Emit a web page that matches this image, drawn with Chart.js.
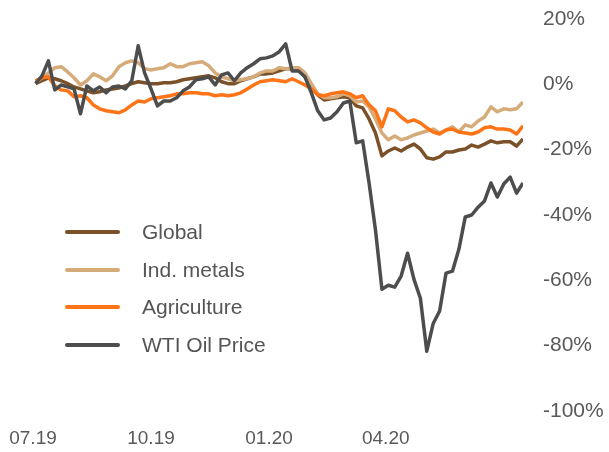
<!DOCTYPE html>
<html lang="en">
<head>
<meta charset="utf-8">
<title>Commodities</title>
<script src="https://cdn.jsdelivr.net/npm/chart.js@4.4.1/dist/chart.umd.min.js"></script>
<style>
    html, body { margin: 0; padding: 0; background: #fff; }
    #quadro { position: relative; width: 609px; height: 452px; }
    #legenda {
        position: absolute; left: 65px; top: 213px;
        font-family: "Liberation Sans", Arial, sans-serif; font-size: 21px; color: #555;
    }
    .item { height: 37.7px; display: flex; align-items: center; white-space: nowrap; }
    .linha { width: 55px; height: 4px; border-radius: 2px; margin-right: 22px; }
</style>
</head>
<body>
<div id="quadro">
    <canvas id="myChart" width="609" height="452"></canvas>
    <div id="legenda"></div>
</div>
<script>
// dias desde 01.07.2019
const dias = [2, 7, 12, 17, 22, 27, 32, 37, 42, 47, 52, 57, 62, 67, 72, 77, 82, 87, 92, 97,
    102, 107, 112, 117, 122, 127, 132, 137, 142, 147, 152, 157, 162, 167, 172, 177, 182, 187, 192, 197,
    202, 207, 212, 217, 222, 227, 232, 237, 242, 247, 252, 257, 262, 267, 272, 277, 282, 287, 292, 297,
    302, 307, 312, 317, 322, 327, 332, 337, 342, 347, 352, 357, 362, 367, 372, 377, 382];

const marcasX = [0, 92, 184, 275];
const rotulosX = ["07.19", "10.19", "01.20", "04.20"];
const marcasY = [20, 0, -20, -40, -60, -80, -100];

const global = [0.2, 1.1, 2.0, 1.7, 1.1, 0.2, -0.8, -1.4, -2.0, -2.6,
    -2.3, -1.7, -1.4, -1.1, -0.5, 0.2, 0.8, 0.5, 0.2, 0.2,
    0.5, 0.5, 0.8, 1.4, 1.7, 2.0, 2.3, 2.6, 2.0, 0.8,
    0.2, 0.2, 1.1, 1.7, 2.3, 3.2, 3.2, 3.5, 4.1, 4.8,
    4.8, 4.4, 2.3, -0.8, -3.2, -4.8, -4.4, -4.1, -3.8, -4.1,
    -6.6, -7.2, -10.6, -14.9, -21.9, -20.4, -19.5, -20.4, -19.2, -18.3,
    -19.8, -22.5, -22.9, -22.2, -20.7, -20.7, -20.1, -19.8, -18.6, -19.2,
    -18.3, -17.3, -17.9, -17.6, -17.6, -18.9, -16.7];

const metais = [0.5, 2.0, 3.5, 5.1, 5.4, 3.8, 2.0, -0.2, 1.1, 3.2,
    2.3, 1.1, 2.6, 5.4, 6.6, 7.2, 6.6, 4.8, 4.4, 4.8,
    5.1, 6.3, 5.4, 5.4, 6.3, 6.6, 6.9, 5.7, 3.5, 2.3,
    1.7, 1.1, 1.4, 1.7, 2.3, 3.5, 4.1, 4.1, 5.1, 4.8,
    5.1, 5.1, 3.5, 0.2, -2.9, -4.1, -4.1, -3.8, -2.9, -3.5,
    -5.4, -5.1, -6.9, -10.6, -14.9, -17.0, -15.8, -17.0, -16.4, -15.5,
    -14.9, -14.3, -13.7, -14.9, -14.0, -13.0, -14.6, -12.4, -13.0, -11.2,
    -10.0, -6.9, -8.4, -7.5, -7.8, -7.5, -5.4];

const agricultura = [1.1, 2.0, 2.3, -0.5, -1.7, -2.0, -3.8, -3.5, -4.1, -6.3,
    -7.5, -8.1, -8.4, -8.7, -7.8, -6.3, -5.1, -5.4, -4.4, -4.1,
    -3.8, -3.5, -2.9, -2.9, -2.6, -2.6, -2.9, -2.9, -3.5, -3.2,
    -3.5, -3.2, -2.6, -1.4, -0.2, 0.8, 1.1, 1.4, 1.1, 0.8,
    1.7, 0.8, -0.2, -1.4, -3.2, -3.5, -2.9, -2.6, -2.3, -2.9,
    -4.1, -3.5, -6.3, -8.1, -13.0, -7.5, -8.1, -10.0, -11.5, -10.9,
    -11.8, -13.3, -14.6, -15.2, -14.0, -13.7, -14.6, -14.9, -15.2, -14.6,
    -13.3, -13.0, -13.7, -13.7, -14.0, -15.2, -12.7];

const petroleo = [0.2, 2.6, 7.2, -1.7, -0.2, -0.8, -1.4, -9.0, -0.5, -2.0,
    -0.8, -2.6, -0.8, -0.5, -1.4, 1.1, 11.8, 3.5, -1.4, -6.6,
    -5.1, -5.1, -4.1, -2.0, -0.8, 1.4, 1.7, 2.3, -0.2, 2.9,
    3.5, 1.1, 3.5, 5.1, 6.3, 7.8, 8.1, 8.7, 10.0, 12.4,
    4.1, 4.1, 2.3, -2.6, -8.1, -10.9, -10.3, -8.4, -5.7, -5.1,
    -17.9, -17.3, -30.2, -44.6, -62.7, -61.5, -62.1, -58.7, -51.7, -59.7,
    -65.5, -81.7, -73.2, -69.4, -57.8, -57.2, -50.5, -40.6, -40.0, -37.6,
    -35.7, -30.2, -34.5, -30.5, -28.4, -33.3, -30.2];

const corTexto = "#595959";
const familia = "'Liberation Sans', Arial, sans-serif";

let chart;

window.onload = aoCarregarPagina;

function aoCarregarPagina() {
    const ctx = document.querySelector("#myChart");
    criarGrafico(ctx);
    criarLegenda();
}

function serie(label, valores, cor, ordem) {
    return {
        label: label,
        data: dias.map((dia, i) => ({ x: dia, y: valores[i] })),
        borderColor: cor,
        backgroundColor: cor,
        borderWidth: 3.5,
        borderJoinStyle: "round",
        pointRadius: 0,
        tension: 0,
        order: ordem
    };
}

function semPadding(escala) {
    escala.paddingTop = 0;
    escala.paddingBottom = 0;
    escala.paddingLeft = 0;
    escala.paddingRight = 0;
}

function criarGrafico(ctx) {
    chart = new Chart(ctx, {
        type: "line",
        data: {
            datasets: [
                serie("Global", global, "#7a5128", 4),
                serie("Ind. metals", metais, "#d6ab7a", 3),
                serie("Agriculture", agricultura, "#ff7417", 2),
                serie("WTI Oil Price", petroleo, "#4d4d4d", 1)
            ]
        },
        options: {
            responsive: false,
            animation: false,
            devicePixelRatio: 1,
            layout: { padding: { left: 33, top: 19, right: 0, bottom: 0 } },
            plugins: {
                legend: { display: false },
                tooltip: { enabled: false }
            },
            scales: {
                x: {
                    type: "linear",
                    min: 0,
                    max: 382,
                    grid: { display: false, drawTicks: false },
                    border: { display: false },
                    afterBuildTicks: (escala) => { escala.ticks = marcasX.map(v => ({ value: v })); },
                    afterFit: (escala) => { escala.height = 41; semPadding(escala); },
                    ticks: {
                        autoSkip: false,
                        maxRotation: 0,
                        padding: 16,
                        color: corTexto,
                        font: { family: familia, size: 19 },
                        callback: (v) => rotulosX[marcasX.indexOf(v)]
                    }
                },
                y: {
                    position: "right",
                    min: -100,
                    max: 20,
                    grid: { display: false, drawTicks: false },
                    border: { display: false },
                    afterBuildTicks: (escala) => { escala.ticks = marcasY.map(v => ({ value: v })); },
                    afterFit: (escala) => { escala.width = 86; semPadding(escala); },
                    ticks: {
                        padding: 20,
                        color: corTexto,
                        font: { family: familia, size: 21 },
                        callback: (v) => v + "%"
                    }
                }
            }
        }
    });

    return chart;
}

function criarLegenda() {
    const legenda = document.querySelector("#legenda");
    chart.data.datasets.forEach(ds => {
        const item = document.createElement("div");
        item.className = "item";
        const linha = document.createElement("span");
        linha.className = "linha";
        linha.style.background = ds.borderColor;
        const texto = document.createElement("span");
        texto.textContent = ds.label;
        item.appendChild(linha);
        item.appendChild(texto);
        legenda.appendChild(item);
    });
}
</script>
</body>
</html>
